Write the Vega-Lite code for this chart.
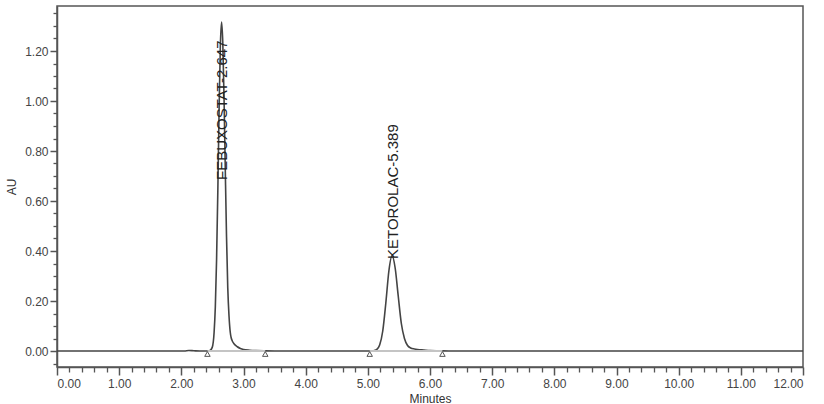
{
  "$schema": "https://vega.github.io/schema/vega-lite/v6.json",
  "autosize": {"type": "none"},
  "padding": {"left": 57, "top": 6, "right": 21, "bottom": 37},
  "width": 746,
  "height": 361,
  "background": "white",
  "config": {
    "view": {"stroke": "#555555", "strokeWidth": 1.5},
    "font": "Liberation Sans",
    "axis": {"labelFont": "Liberation Sans", "titleFont": "Liberation Sans", "domainColor": "#555555", "tickColor": "#555555", "labelColor": "#444444", "titleColor": "#333333", "grid": false}
  },
  "datasets": {
    "trace": [
      {"t": 0, "au": 0}, {"t": 1.0, "au": 0}, {"t": 2.05, "au": 0}, {"t": 2.12, "au": 0.002}, {"t": 2.2, "au": 0.001}, {"t": 2.3, "au": 0},
      {"t": 2.4, "au": 0}, {"t": 2.45, "au": 0.0005}, {"t": 2.497, "au": 0.0146}, {"t": 2.527, "au": 0.074}, {"t": 2.547, "au": 0.178},
      {"t": 2.567, "au": 0.366}, {"t": 2.587, "au": 0.64}, {"t": 2.607, "au": 0.956}, {"t": 2.627, "au": 1.215}, {"t": 2.647, "au": 1.316},
      {"t": 2.667, "au": 1.232}, {"t": 2.687, "au": 1.011}, {"t": 2.707, "au": 0.726}, {"t": 2.727, "au": 0.457}, {"t": 2.747, "au": 0.252},
      {"t": 2.767, "au": 0.14}, {"t": 2.787, "au": 0.075}, {"t": 2.8, "au": 0.055}, {"t": 2.82, "au": 0.04}, {"t": 2.85, "au": 0.028},
      {"t": 2.9, "au": 0.017}, {"t": 2.95, "au": 0.01}, {"t": 3.0, "au": 0.006}, {"t": 3.1, "au": 0.003}, {"t": 3.2, "au": 0.0015},
      {"t": 3.35, "au": 0.0005}, {"t": 3.5, "au": 0}, {"t": 5.0, "au": 0}, {"t": 5.04, "au": 0.0003}, {"t": 5.09, "au": 0.0008},
      {"t": 5.14, "au": 0.005}, {"t": 5.19, "au": 0.024}, {"t": 5.24, "au": 0.08}, {"t": 5.289, "au": 0.191}, {"t": 5.339, "au": 0.321},
      {"t": 5.389, "au": 0.382}, {"t": 5.439, "au": 0.333}, {"t": 5.489, "au": 0.22}, {"t": 5.539, "au": 0.11}, {"t": 5.589, "au": 0.05},
      {"t": 5.639, "au": 0.022}, {"t": 5.689, "au": 0.012}, {"t": 5.75, "au": 0.008}, {"t": 5.8, "au": 0.006}, {"t": 5.9, "au": 0.004},
      {"t": 6.0, "au": 0.002}, {"t": 6.15, "au": 0.001}, {"t": 6.3, "au": 0}, {"t": 12, "au": 0}
    ],
    "baselines": [
      {"t": 2.42, "t2": 3.35, "au": 0},
      {"t": 5.03, "t2": 6.2, "au": 0}
    ],
    "markers": [
      {"t": 2.42, "au": -0.012}, {"t": 3.35, "au": -0.012}, {"t": 5.03, "au": -0.012}, {"t": 6.2, "au": -0.012}
    ],
    "labels": [
      {"t": 2.65, "au": 0.684, "label": "FEBUXOSTAT-2.647"},
      {"t": 5.4, "au": 0.368, "label": "KETOROLAC-5.389"}
    ]
  },
  "resolve": {"axis": {"x": "independent", "y": "independent"}},
  "layer": [
    {
      "data": {"name": "trace"},
      "mark": {"type": "line", "color": "#444444", "strokeWidth": 1.6, "interpolate": "monotone"},
      "encoding": {
        "x": {"field": "t", "type": "quantitative", "scale": {"domain": [0, 12], "nice": false, "zero": false},
          "axis": {"orient": "bottom", "title": "Minutes", "values": [0,1,2,3,4,5,6,7,8,9,10,11,12], "format": ".2f", "labelFontSize": 12, "titleFontSize": 12, "titleFontWeight": "normal", "tickSize": 8, "labelPadding": 3, "titlePadding": 4, "domainWidth": 1.5, "tickWidth": 1.5}},
        "y": {"field": "au", "type": "quantitative", "scale": {"domain": [-0.064, 1.38], "nice": false, "zero": false},
          "axis": {"orient": "left", "title": "AU", "values": [0, 0.2, 0.4, 0.6, 0.8, 1.0, 1.2], "format": ".2f", "labelFontSize": 12, "titleFontSize": 12, "titleFontWeight": "normal", "tickSize": 7, "labelPadding": 2, "titlePadding": 6, "domainWidth": 1.5, "tickWidth": 1.5}}
      }
    },
    {
      "data": {"name": "trace"},
      "mark": {"type": "line", "opacity": 0},
      "encoding": {
        "x": {"field": "t", "type": "quantitative", "scale": {"domain": [0, 12], "nice": false, "zero": false},
          "axis": {"orient": "bottom", "title": null, "labels": false, "domain": false, "tickSize": 5, "tickWidth": 1.3,
            "values": [0.2,0.4,0.6,0.8,1.2,1.4,1.6,1.8,2.2,2.4,2.6,2.8,3.2,3.4,3.6,3.8,4.2,4.4,4.6,4.8,5.2,5.4,5.6,5.8,6.2,6.4,6.6,6.8,7.2,7.4,7.6,7.8,8.2,8.4,8.6,8.8,9.2,9.4,9.6,9.8,10.2,10.4,10.6,10.8,11.2,11.4,11.6,11.8]}},
        "y": {"field": "au", "type": "quantitative", "scale": {"domain": [-0.064, 1.38], "nice": false, "zero": false},
          "axis": {"orient": "left", "title": null, "labels": false, "domain": false, "tickSize": 4, "tickWidth": 1.3,
            "values": [-0.05,0.05,0.1,0.15,0.25,0.3,0.35,0.45,0.5,0.55,0.65,0.7,0.75,0.85,0.9,0.95,1.05,1.1,1.15,1.25,1.3,1.35]}}
      }
    },
    {
      "data": {"name": "baselines"},
      "mark": {"type": "rule", "color": "#c4c4c4", "strokeWidth": 2},
      "encoding": {
        "x": {"field": "t", "type": "quantitative", "axis": null},
        "x2": {"field": "t2"},
        "y": {"field": "au", "type": "quantitative", "axis": null}
      }
    },
    {
      "data": {"name": "markers"},
      "mark": {"type": "point", "shape": "triangle-up", "filled": false, "size": 30, "color": "#555555", "strokeWidth": 1, "opacity": 1},
      "encoding": {
        "x": {"field": "t", "type": "quantitative", "axis": null},
        "y": {"field": "au", "type": "quantitative", "axis": null}
      }
    },
    {
      "data": {"name": "labels"},
      "mark": {"type": "text", "angle": 270, "align": "left", "baseline": "middle", "fontSize": 15, "font": "Liberation Sans", "color": "#222222"},
      "encoding": {
        "x": {"field": "t", "type": "quantitative", "axis": null},
        "y": {"field": "au", "type": "quantitative", "axis": null},
        "text": {"field": "label"}
      }
    }
  ]
}
